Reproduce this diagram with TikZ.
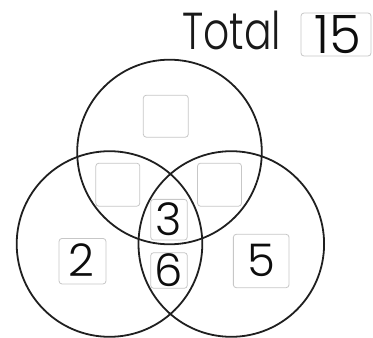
\documentclass[tikz,border=0pt]{standalone}
\usepackage{fontspec}
\usepackage{graphicx}
\setmainfont{Poppins}[UprightFont={* Light}]
\begin{document}
\begin{tikzpicture}[x=1pt,y=-1pt,
  ring/.style={draw=black!88,line width=1.8pt},
  numbox/.style={draw=black!22,line width=0.8pt,fill=white,rounded corners=3pt,inner sep=0pt},
  digit/.style={font=\fontsize{45}{45}\selectfont,text=black!95}]
\useasboundingbox (0,0) rectangle (373,338);
\coordinate (cT) at (169.5,152);
\coordinate (cL) at (109.5,244);
\coordinate (cR) at (231.3,244);
\draw[ring] (cT) circle[radius=92.3pt];
\draw[ring] (cL) circle[radius=92.8pt];
\draw[ring] (cR) circle[radius=92.8pt];
\node[numbox,minimum width=70pt,minimum height=43pt] (btotal) at (336,34.5) {};
\node[anchor=base west,inner sep=0pt,font=\fontsize{52}{52}\selectfont,text=black!90] (total) at (182,49.3) {\resizebox{99pt}{\height}{Total}};
\node[numbox,minimum width=45pt,minimum height=42pt] (btop) at (165.8,116.2) {};
\node[numbox,minimum width=44pt,minimum height=43pt] (bleft) at (117.8,184.7) {};
\node[numbox,minimum width=44pt,minimum height=43pt] (bright) at (219.5,184.7) {};
\node[numbox,minimum width=36.6pt,minimum height=40.7pt] (bthree) at (169,219.7) {};
\node[numbox,minimum width=36.6pt,minimum height=35.6pt] (bsix) at (169,270.5) {};
\node[numbox,minimum width=47pt,minimum height=45.5pt] (btwo) at (82.5,261.2) {};
\node[numbox,minimum width=55.7pt,minimum height=53.4pt] (bfive) at (261.2,261) {};
\node[digit,anchor=base,inner sep=0pt] (t15) at (338.3,53.3) {\fontsize{53}{53}\selectfont\resizebox{46.7pt}{\height}{15}};
\node[digit,anchor=base,inner sep=0pt] (t3) at (168.5,235) {3};
\node[digit,anchor=base,inner sep=0pt] (t6) at (169,286.7) {6};
\node[digit,anchor=base,inner sep=0pt] (t2) at (81.7,276.7) {2};
\node[digit,anchor=base,inner sep=0pt] (t5) at (261.5,276.7) {5};
\end{tikzpicture}
\end{document}
